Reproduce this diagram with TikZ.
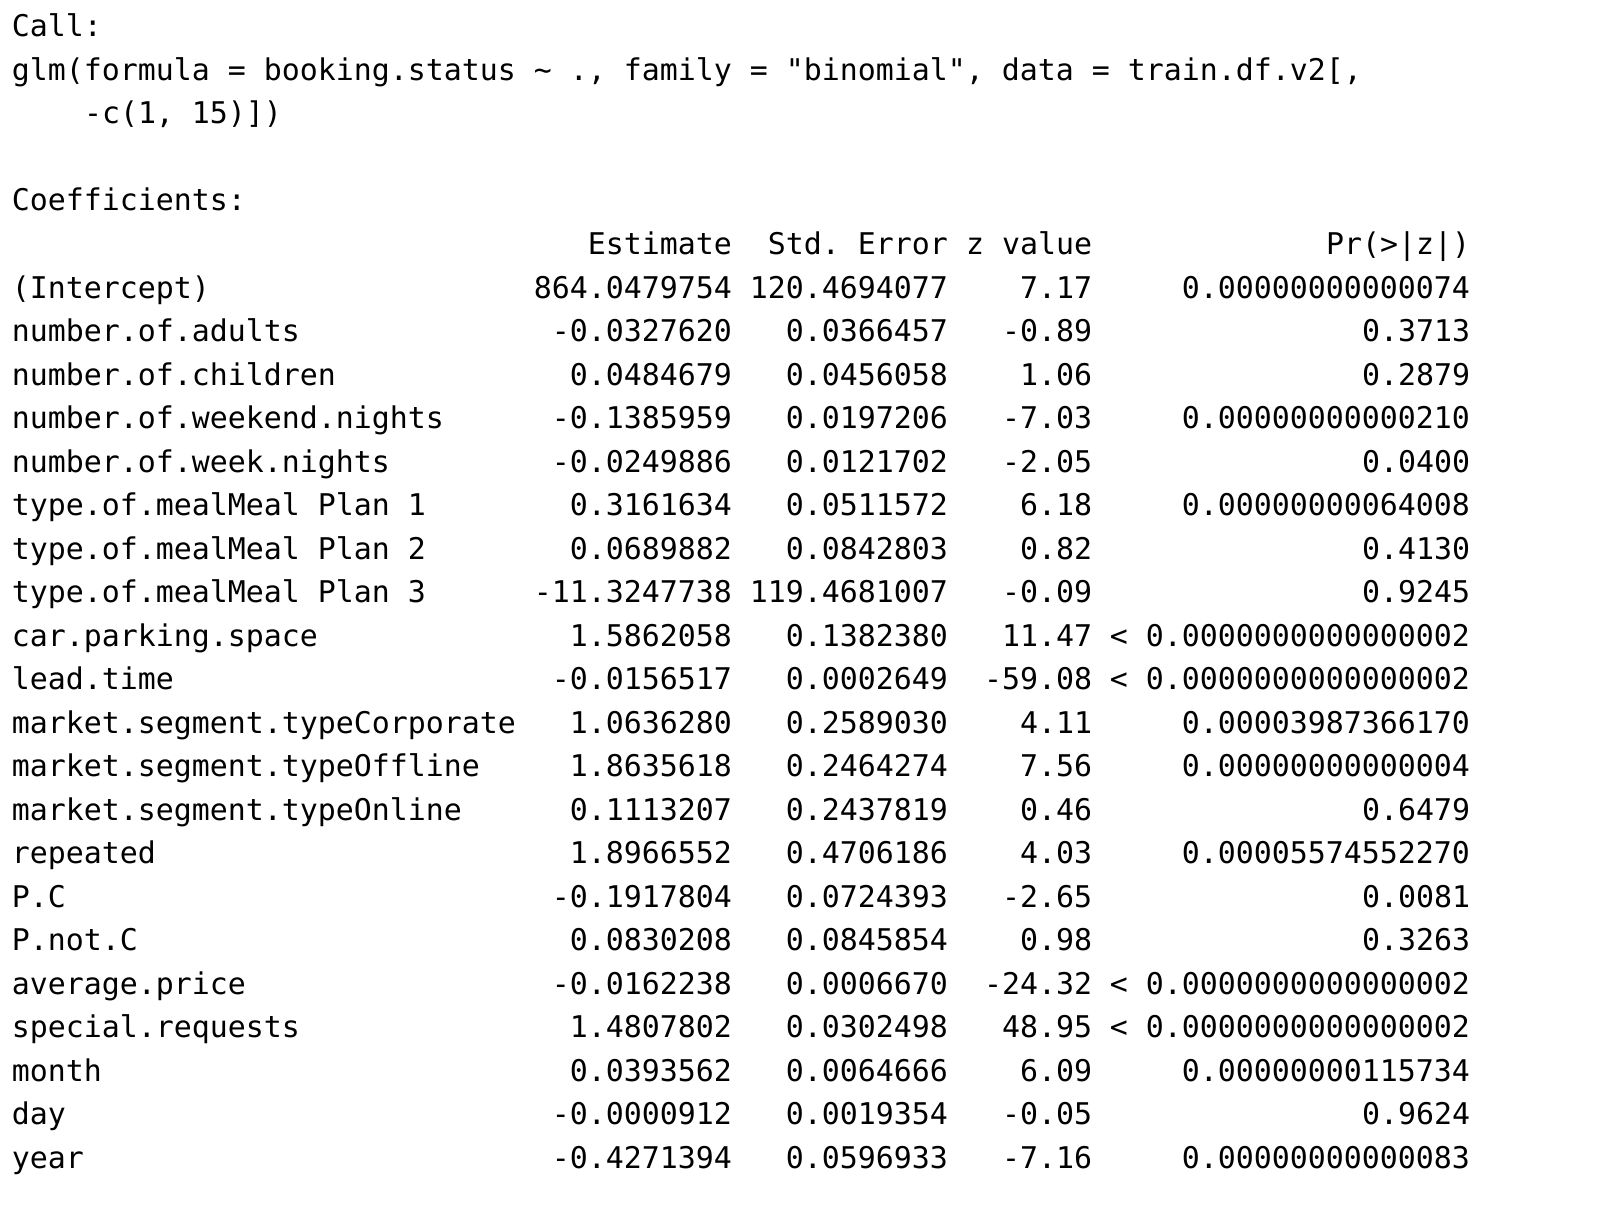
\documentclass[tikz,border=0pt]{standalone}
\usepackage{fontspec}
\setmonofont{DejaVu Sans Mono}
\usepackage{tikz}
\usetikzlibrary{positioning}
\tikzset{
  console/.style={inner sep=0pt, outer sep=0pt, text=black,
                  font=\ttfamily\fontsize{29.9pt}{43.5pt}\selectfont},
  leftcell/.style={console, anchor=base west},
  rightcell/.style={console, anchor=base east},
}

\begin{document}
\frenchspacing
\begin{tikzpicture}[x=1pt,y=-1pt]
\useasboundingbox[fill=white] (0,0) rectangle (1604,1220);

%Call
\node[leftcell] (call) at (12,37) {Call:};
\node[leftcell] (glm) at (12,80.5) {glm(formula = booking.status \textasciitilde{} ., family = "binomial", data = train.df.v2[,};
\node[leftcell] (glmcont) at (84,124) {-c(1, 15)])};

%Header
\node[leftcell] (coef) at (12,211) {Coefficients:};
\node[rightcell] (hEst) at (732,254.5) {Estimate};
\node[rightcell] (hSE) at (948,254.5) {Std. Error};
\node[rightcell] (hZ) at (1092,254.5) {z value};
\node[rightcell] (hP) at (1470,254.5) {Pr(>|z|)};

%Rows
\foreach \rname/\rest/\rse/\rz/\rp [count=\i] in {
  (Intercept)/864.0479754/120.4694077/7.17/0.00000000000074,
  number.of.adults/-0.0327620/0.0366457/-0.89/0.3713,
  number.of.children/0.0484679/0.0456058/1.06/0.2879,
  number.of.weekend.nights/-0.1385959/0.0197206/-7.03/0.00000000000210,
  number.of.week.nights/-0.0249886/0.0121702/-2.05/0.0400,
  type.of.mealMeal Plan 1/0.3161634/0.0511572/6.18/0.00000000064008,
  type.of.mealMeal Plan 2/0.0689882/0.0842803/0.82/0.4130,
  type.of.mealMeal Plan 3/-11.3247738/119.4681007/-0.09/0.9245,
  car.parking.space/1.5862058/0.1382380/11.47/< 0.0000000000000002,
  lead.time/-0.0156517/0.0002649/-59.08/< 0.0000000000000002,
  market.segment.typeCorporate/1.0636280/0.2589030/4.11/0.00003987366170,
  market.segment.typeOffline/1.8635618/0.2464274/7.56/0.00000000000004,
  market.segment.typeOnline/0.1113207/0.2437819/0.46/0.6479,
  repeated/1.8966552/0.4706186/4.03/0.00005574552270,
  P.C/-0.1917804/0.0724393/-2.65/0.0081,
  P.not.C/0.0830208/0.0845854/0.98/0.3263,
  average.price/-0.0162238/0.0006670/-24.32/< 0.0000000000000002,
  special.requests/1.4807802/0.0302498/48.95/< 0.0000000000000002,
  month/0.0393562/0.0064666/6.09/0.00000000115734,
  day/-0.0000912/0.0019354/-0.05/0.9624,
  year/-0.4271394/0.0596933/-7.16/0.00000000000083}
{
  \pgfmathsetmacro\ry{298+(\i-1)*43.5}
  \node[leftcell] (name\i) at (12,\ry) {\rname};
  \node[rightcell] (est\i) at (732,\ry) {\rest};
  \node[rightcell] (se\i) at (948,\ry) {\rse};
  \node[rightcell] (z\i) at (1092,\ry) {\rz};
  \node[rightcell] (p\i) at (1470,\ry) {\rp};
}
\end{tikzpicture}
\end{document}
